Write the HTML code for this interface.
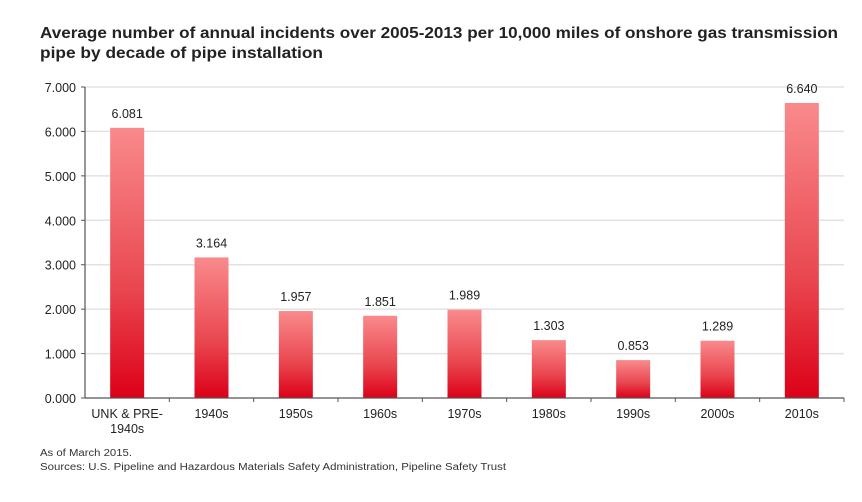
<!DOCTYPE html>
<html><head><meta charset="utf-8"><style>
body{margin:0;background:#fff;width:862px;height:497px;overflow:hidden;font-family:"Liberation Sans",sans-serif}
</style></head><body>
<svg width="862" height="497">
<defs><linearGradient id="g" x1="0" y1="0" x2="0" y2="1"><stop offset="0" stop-color="#f98a8c"/><stop offset="0.6" stop-color="#e9464f"/><stop offset="1" stop-color="#dc0018"/></linearGradient></defs>
<text x="40" y="38" font-size="16" font-weight="bold" fill="#222" textLength="798" lengthAdjust="spacingAndGlyphs">Average number of annual incidents over 2005-2013 per 10,000 miles of onshore gas transmission</text>
<text x="40" y="58" font-size="16" font-weight="bold" fill="#222" textLength="283" lengthAdjust="spacingAndGlyphs">pipe by decade of pipe installation</text>
<g id="grid"></g><g id="bars"></g><g id="axes"></g>
<text x="40" y="456" font-size="10" fill="#333" textLength="92" lengthAdjust="spacingAndGlyphs">As of March 2015.</text>
<text x="40" y="470" font-size="10" fill="#333" textLength="466" lengthAdjust="spacingAndGlyphs">Sources: U.S. Pipeline and Hazardous Materials Safety Administration, Pipeline Safety Trust</text>
</svg>
<script>
const categories=["UNK & PRE-|1940s","1940s","1950s","1960s","1970s","1980s","1990s","2000s","2010s"];
const values=[6.081,3.164,1.957,1.851,1.989,1.303,0.853,1.289,6.640];
const labels=["6.081","3.164","1.957","1.851","1.989","1.303","0.853","1.289","6.640"];
const yTicks=[0,1,2,3,4,5,6,7];
const NS="http://www.w3.org/2000/svg";
const L=85,R=844,T=87,B=398,ymax=7;
const y=v=>B-(v/ymax)*(B-T);
const bw=(R-L)/categories.length;
const x=i=>L+bw*(i+0.5);
function mk(t,a,p,txt){const e=document.createElementNS(NS,t);for(const k in a)e.setAttribute(k,a[k]);if(txt!=null)e.textContent=txt;document.getElementById(p).appendChild(e);return e;}
yTicks.forEach(v=>{
 const g=mk('line',{x1:L,x2:R,y1:y(v),y2:y(v),stroke:v?'#e2e2e2':'none','stroke-width':1.5},'grid');
 
 
 const t=mk('text',{x:L-9,y:y(v)+5,'text-anchor':'end','font-size':12.5,fill:'#222'},'axes',v.toFixed(3));
 
 
 mk('line',{x1:L-4,x2:L,y1:y(v),y2:y(v),stroke:'#555'},'axes');
});
values.forEach((v,i)=>{
 const r=mk('rect',{x:x(i)-17,y:y(v),width:34,height:B-y(v),fill:'url(#g)'},'bars');
 
 
 const t=mk('text',{x:x(i),y:y(v)-10,'text-anchor':'middle','font-size':12.5,fill:'#222'},'bars',labels[i]);
 
 
 categories[i].split('|').forEach((s,j)=>{
  const c=mk('text',{x:x(i),y:B+20+j*15,'text-anchor':'middle','font-size':12.5,fill:'#222'},'axes',s);
  
  
 });
 mk('line',{x1:L+bw*(i+1),x2:L+bw*(i+1),y1:B,y2:B+4,stroke:'#555'},'axes');
});
mk('line',{x1:L,x2:L,y1:T,y2:B,stroke:'#555','stroke-width':1.2},'axes');
mk('line',{x1:L,x2:R,y1:B,y2:B,stroke:'#555','stroke-width':1.2},'axes');
</script>
</body></html>
